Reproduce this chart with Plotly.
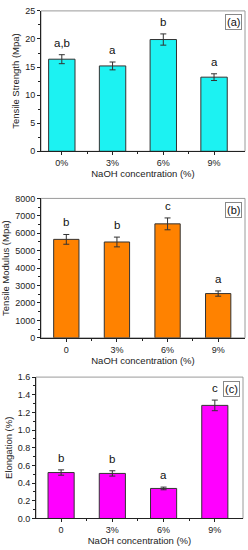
import plotly.graph_objects as go

positions = [0, 1, 2, 3]
labels_a = ["0%", "3%", "6%", "9%"]
labels_bc = ["0", "3%", "6%", "9%"]

strength = [16.4, 15.2, 19.9, 13.2]
strength_err = [0.8, 0.7, 1.0, 0.6]
strength_groups = ["a,b", "a", "b", "a"]

modulus = [5650, 5500, 6540, 2540]
modulus_err = [280, 280, 340, 150]
modulus_groups = ["b", "b", "c", "a"]

elong = [0.52, 0.51, 0.34, 1.28]
elong_err = [0.03, 0.03, 0.015, 0.06]
elong_groups = ["b", "b", "a", "c"]

H = 550.0
W = 248.0
font = "Liberation Sans, Arial, sans-serif"

fig = go.Figure()

panels = [
    dict(vals=strength, err=strength_err, grp=strength_groups, color="#1CF2F2",
         ticks=labels_a, yrange=[0, 25], dtick=5, minor=2.5, xr=[-0.41, 3.61],
         px=(41, 245), py=(6, 149), title="Tensile Strength (Mpa)", tag="(a)", width=0.52, fmt=None),
    dict(vals=modulus, err=modulus_err, grp=modulus_groups, color="#FF8200",
         ticks=labels_bc, yrange=[0, 8000], dtick=1000, minor=500, xr=[-0.5, 3.53],
         px=(41, 245), py=(197, 339), title="Tensile Modulus (Mpa)", tag="(b)", width=0.5, fmt=None),
    dict(vals=elong, err=elong_err, grp=elong_groups, color="#FF00FF",
         ticks=labels_bc, yrange=[0, 1.6], dtick=0.2, minor=0.1, xr=[-0.49, 3.55],
         px=(36, 243), py=(379, 523), title="Elongation (%)", tag="(c)", width=0.51, fmt=".1f"),
]

for i, p in enumerate(panels):
    n = "" if i == 0 else str(i + 1)
    xa = "x" + n
    ya = "y" + n
    fig.add_trace(go.Bar(
        x=positions, y=p["vals"], width=p["width"],
        marker=dict(color=p["color"], line=dict(color="#333333", width=1)),
        error_y=dict(type="data", array=p["err"], color="#333333", thickness=1, width=3),
        xaxis=xa, yaxis=ya, showlegend=False,
    ))
    xd = [p["px"][0] / W, p["px"][1] / W]
    yd = [1 - p["py"][1] / H, 1 - p["py"][0] / H]
    axis_common = dict(showline=True, linecolor="#222222", linewidth=1, ticks="outside",
                       ticklen=3, tickcolor="#222222", showgrid=False, zeroline=False,
                       tickfont=dict(family=font, size=9, color="#222222"))
    fig.layout["xaxis" + n] = dict(
        domain=xd, anchor=ya, range=p["xr"], tickmode="array", tickvals=positions,
        ticktext=p["ticks"],
        minor=dict(tickmode="array", tickvals=[0.5, 1.5, 2.5], ticks="outside", ticklen=2, tickcolor="#222222"),
        title=dict(text="NaOH concentration (%)", font=dict(family=font, size=9.5, color="#222222"), standoff=2),
        **axis_common)
    yax = dict(
        domain=yd, anchor=xa, range=p["yrange"], dtick=p["dtick"], tick0=0,
        minor=dict(dtick=p["minor"], ticks="outside", ticklen=2, tickcolor="#222222"),
        title=dict(text=p["title"], font=dict(family=font, size=9.5, color="#222222"), standoff=3),
        **axis_common)
    if p["fmt"]:
        yax["tickformat"] = p["fmt"]
    fig.layout["yaxis" + n] = yax
    fig.add_shape(type="rect", xref=xa + " domain", yref=ya + " domain", x0=0, x1=1, y0=0, y1=1,
                  line=dict(color="#9a9a9a", width=1), layer="below")
    fig.add_annotation(text=p["tag"], xref=xa + " domain", yref=ya + " domain", x=0.985, y=0.975,
                       xanchor="right", yanchor="top", showarrow=False,
                       font=dict(family=font, size=11, color="#111111"),
                       bordercolor="#888888", borderwidth=1, borderpad=1)
    for xv, v, e, g in zip(positions, p["vals"], p["err"], p["grp"]):
        fig.add_annotation(text=g, x=xv, y=v + e, xref=xa, yref=ya, showarrow=False,
                           yanchor="bottom", yshift=4,
                           font=dict(family=font, size=11.5, color="#111111"))

fig.update_layout(width=248, height=550, margin=dict(l=0, r=0, t=0, b=0),
                  paper_bgcolor="white", plot_bgcolor="white", bargap=0)
fig.write_html("out.html", config={"displayModeBar": False, "staticPlot": True},
               post_script="document.body.style.margin='0';document.body.style.padding='0';document.body.style.overflow='hidden';document.documentElement.style.overflow='hidden';")
